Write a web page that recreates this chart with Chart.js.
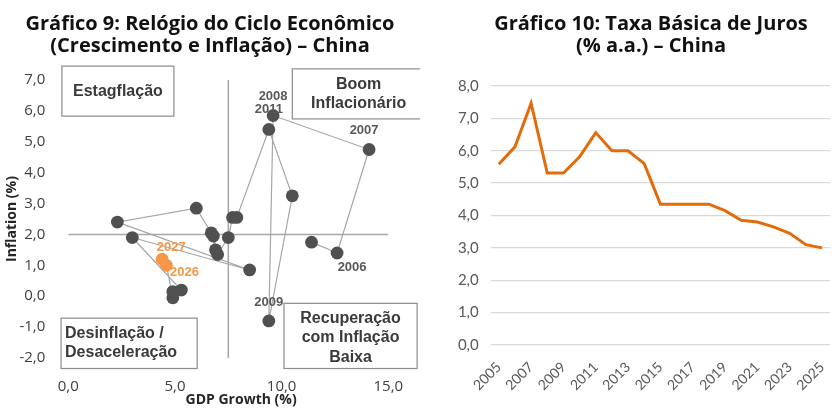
<!DOCTYPE html>
<html>
<head>
<meta charset="utf-8">
<script src="https://cdn.jsdelivr.net/npm/chart.js@4.4.1/dist/chart.umd.min.js"></script>
<style>
  html, body { margin: 0; padding: 0; background: #fff; }
  #wrap { position: relative; width: 840px; height: 420px; }
  .panel { position: absolute; top: 0; width: 420px; height: 420px; }
</style>
</head>
<body>
<div id="wrap">
  <div class="panel" style="left:0"><canvas id="clock" width="420" height="420"></canvas></div>
  <div class="panel" style="left:420px"><canvas id="rate" width="420" height="420"></canvas></div>
</div>
<script>
// ---- Gráfico 9 data ----
const years = [2005, 2006, 2007, 2008, 2009, 2010, 2011, 2012, 2013, 2014, 2015, 2016,
               2017, 2018, 2019, 2020, 2021, 2022, 2023, 2024, 2025, 2026, 2027];
const gdpGrowth = [11.4, 12.6, 14.1, 9.6, 9.4, 10.5, 9.4, 7.9, 7.7, 7.5, 7.0, 6.8,
                   6.9, 6.7, 6.0, 2.3, 8.5, 3.0, 5.3, 4.9, 4.9, 4.6, 4.4];
const inflation = [1.75, 1.4, 4.75, 5.85, -0.8, 3.25, 5.4, 2.55, 2.55, 1.9, 1.35, 1.95,
                   1.5, 2.05, 2.85, 2.4, 0.85, 1.9, 0.2, 0.15, -0.05, 1.0, 1.2];
const forecastYears = [2026, 2027];
const labelledYears = [2006, 2007, 2008, 2009, 2011, 2026, 2027];
const gdpTicks = [0, 5, 10, 15];
const inflationTicks = [-2, -1, 0, 1, 2, 3, 4, 5, 6, 7];
const neutralGrowth = 7.5;
const neutralInflation = 2.0;
const quadrantNames = [
  ['Estagflação'],
  ['Boom', 'Inflacionário'],
  ['Desinflação /', 'Desaceleração'],
  ['Recuperação', 'com Inflação', 'Baixa']
];

// ---- Gráfico 10 data ----
const rateYears = ['2005', '2006', '2007', '2008', '2009', '2010', '2011', '2012', '2013', '2014', '2015',
                   '2016', '2017', '2018', '2019', '2020', '2021', '2022', '2023', '2024', '2025'];
const policyRate = [5.58, 6.12, 7.47, 5.31, 5.31, 5.81, 6.56, 6.00, 6.00, 5.60, 4.35,
                    4.35, 4.35, 4.35, 4.15, 3.85, 3.80, 3.65, 3.45, 3.10, 3.00];
const rateTicks = [0, 1, 2, 3, 4, 5, 6, 7, 8];

// placement of the annotations (data units / pixel offsets)
const yearLabelOffset = {
  2006: [15, 14], 2007: [-5, -19], 2008: [0, -19], 2009: [0, -19],
  2011: [0, -20], 2026: [18, 7], 2027: [9, -12]
};
const quadrantBoxes = [
  { x0: -0.3, x1: 4.95, y0: 7.45, y1: 5.83, align: 'center' },
  { x0: 10.5, x1: 16.72, y0: 7.36, y1: 5.74, align: 'center' },
  { x0: -0.34, x1: 6.04, y0: -0.71, y1: -2.34, align: 'left' },
  { x0: 10.11, x1: 16.35, y0: -0.23, y1: -2.34, align: 'center' }
];

const fmt = v => Number(v).toFixed(1).replace('.', ',');
const grayDot = '#505050';
const orange = '#F79646';

function drawTitle(ctx, lines, cx, size) {
  ctx.save();
  ctx.fillStyle = '#111';
  ctx.font = 'bold ' + size + 'px "Open Sans", "Noto Sans", sans-serif';
  ctx.textAlign = 'center';
  ctx.textBaseline = 'middle';
  ctx.fillText(lines[0], cx, 24);
  ctx.fillText(lines[1], cx, 46.5);
  ctx.restore();
}

const clockDecor = {
  id: 'clockDecor',
  afterDraw(chart) {
    const { ctx } = chart;
    const x = chart.scales.x, y = chart.scales.y;
    drawTitle(ctx, ['Gráfico 9: Relógio do Ciclo Econômico', '(Crescimento e Inflação) – China'], 210, 20);

    ctx.save();
    ctx.textBaseline = 'middle';
    ctx.textAlign = 'center';
    ctx.font = 'bold 13px "Liberation Sans", Arial, sans-serif';
    labelledYears.forEach(yr => {
      const i = years.indexOf(yr);
      const off = yearLabelOffset[yr];
      ctx.fillStyle = forecastYears.includes(yr) ? orange : '#595959';
      ctx.fillText(String(yr), x.getPixelForValue(gdpGrowth[i]) + off[0], y.getPixelForValue(inflation[i]) + off[1]);
    });

    ctx.font = 'bold 16px "Liberation Sans", Arial, sans-serif';
    quadrantBoxes.forEach((b, k) => {
      const left = x.getPixelForValue(b.x0), right = x.getPixelForValue(b.x1);
      const top = y.getPixelForValue(b.y0), bottom = y.getPixelForValue(b.y1);
      ctx.fillStyle = '#fff';
      ctx.fillRect(left, top, right - left, bottom - top);
      ctx.strokeStyle = '#8c8c8c';
      ctx.lineWidth = 1.2;
      ctx.strokeRect(left, top, right - left, bottom - top);
      const lines = quadrantNames[k];
      const lh = 19.3;
      const cy = (top + bottom) / 2 + (k === 3 ? 2 : 0);
      ctx.fillStyle = '#3a3a3a';
      ctx.textAlign = b.align;
      const tx = b.align === 'left' ? left + 4 : (left + right) / 2;
      lines.forEach((t, j) => {
        ctx.fillText(t, tx, cy + (j - (lines.length - 1) / 2) * lh);
      });
    });

    ctx.textAlign = 'center';
    ctx.fillStyle = '#262626';
    ctx.font = 'bold 14px "Open Sans", "Noto Sans", sans-serif';
    ctx.fillText('GDP Growth (%)', x.getPixelForValue(8.1), 400);
    ctx.restore();
  }
};

new Chart(document.getElementById('clock'), {
  type: 'scatter',
  data: {
    datasets: [
      {
        data: years.map((yr, i) => ({ x: gdpGrowth[i], y: inflation[i] })),
        showLine: true,
        borderColor: '#a6a6a6',
        borderWidth: 1.2,
        pointRadius: 6.4,
        pointHoverRadius: 6.4,
        pointBorderWidth: 0,
        pointBackgroundColor: years.map(yr => forecastYears.includes(yr) ? orange : grayDot),
        order: 0
      },
      {
        data: [{ x: gdpTicks[0], y: neutralInflation }, { x: gdpTicks[gdpTicks.length - 1], y: neutralInflation }],
        showLine: true, borderColor: '#a6a6a6', borderWidth: 1.5, pointRadius: 0, order: 1
      },
      {
        data: [{ x: neutralGrowth, y: inflationTicks[0] }, { x: neutralGrowth, y: inflationTicks[inflationTicks.length - 1] }],
        showLine: true, borderColor: '#a6a6a6', borderWidth: 1.5, pointRadius: 0, order: 1
      }
    ]
  },
  options: {
    responsive: false,
    animation: false,
    layout: { padding: { top: 80, left: 0, right: 31.7, bottom: 0 } },
    plugins: { legend: { display: false }, tooltip: { enabled: false } },
    scales: {
      x: {
        type: 'linear',
        min: gdpTicks[0],
        max: gdpTicks[gdpTicks.length - 1],
        afterBuildTicks: s => { s.ticks = gdpTicks.map(v => ({ value: v })); },
        afterFit: s => { s.height = 62; },
        grid: { display: false },
        border: { display: false },
        ticks: { padding: 12, color: '#404040', font: { family: '"Open Sans", "Noto Sans", sans-serif', size: 15 }, callback: v => fmt(v) }
      },
      y: {
        min: inflationTicks[0],
        max: inflationTicks[inflationTicks.length - 1],
        afterBuildTicks: s => { s.ticks = inflationTicks.map(v => ({ value: v })); },
        afterFit: s => { s.width = 68.3; },
        grid: { display: false },
        border: { display: false },
        ticks: { padding: 15, color: '#404040', font: { family: '"Open Sans", "Noto Sans", sans-serif', size: 15 }, callback: v => fmt(v) },
        title: {
          display: true, text: 'Inflation (%)', color: '#262626',
          font: { family: '"Open Sans", "Noto Sans", sans-serif', size: 14, weight: 'bold' },
          padding: { top: 4, bottom: 0 }
        }
      }
    }
  },
  plugins: [clockDecor]
});

const rateDecor = {
  id: 'rateDecor',
  afterDraw(chart) {
    drawTitle(chart.ctx, ['Gráfico 10: Taxa Básica de Juros', '(% a.a.) – China'], 231, 20);
  }
};

new Chart(document.getElementById('rate'), {
  type: 'line',
  data: {
    labels: rateYears,
    datasets: [{
      data: policyRate,
      borderColor: '#E36C0A',
      borderWidth: 3,
      pointRadius: 0,
      tension: 0,
      fill: false
    }]
  },
  options: {
    responsive: false,
    animation: false,
    layout: { padding: { top: 86, left: 0, right: 4, bottom: 0 } },
    plugins: { legend: { display: false }, tooltip: { enabled: false } },
    scales: {
      x: {
        offset: true,
        afterFit: s => { s.height = 75; },
        grid: { display: false },
        border: { display: false },
        ticks: {
          autoSkip: false, minRotation: 45, maxRotation: 45, padding: 6,
          color: '#595959', font: { family: 'Lato, "Noto Sans", sans-serif', size: 14 },
          callback: (v, i) => (i % 2 === 0 ? rateYears[i] : '')
        }
      },
      y: {
        min: rateTicks[0],
        max: rateTicks[rateTicks.length - 1],
        afterBuildTicks: s => { s.ticks = rateTicks.map(v => ({ value: v })); },
        afterFit: s => { s.width = 70.7; },
        grid: { color: '#d9d9d9', lineWidth: 1.3, drawTicks: false },
        border: { display: false },
        ticks: { padding: 12, color: '#595959', font: { family: 'Lato, "Noto Sans", sans-serif', size: 15 }, callback: v => fmt(v) }
      }
    }
  },
  plugins: [rateDecor]
});
</script>
</body>
</html>
